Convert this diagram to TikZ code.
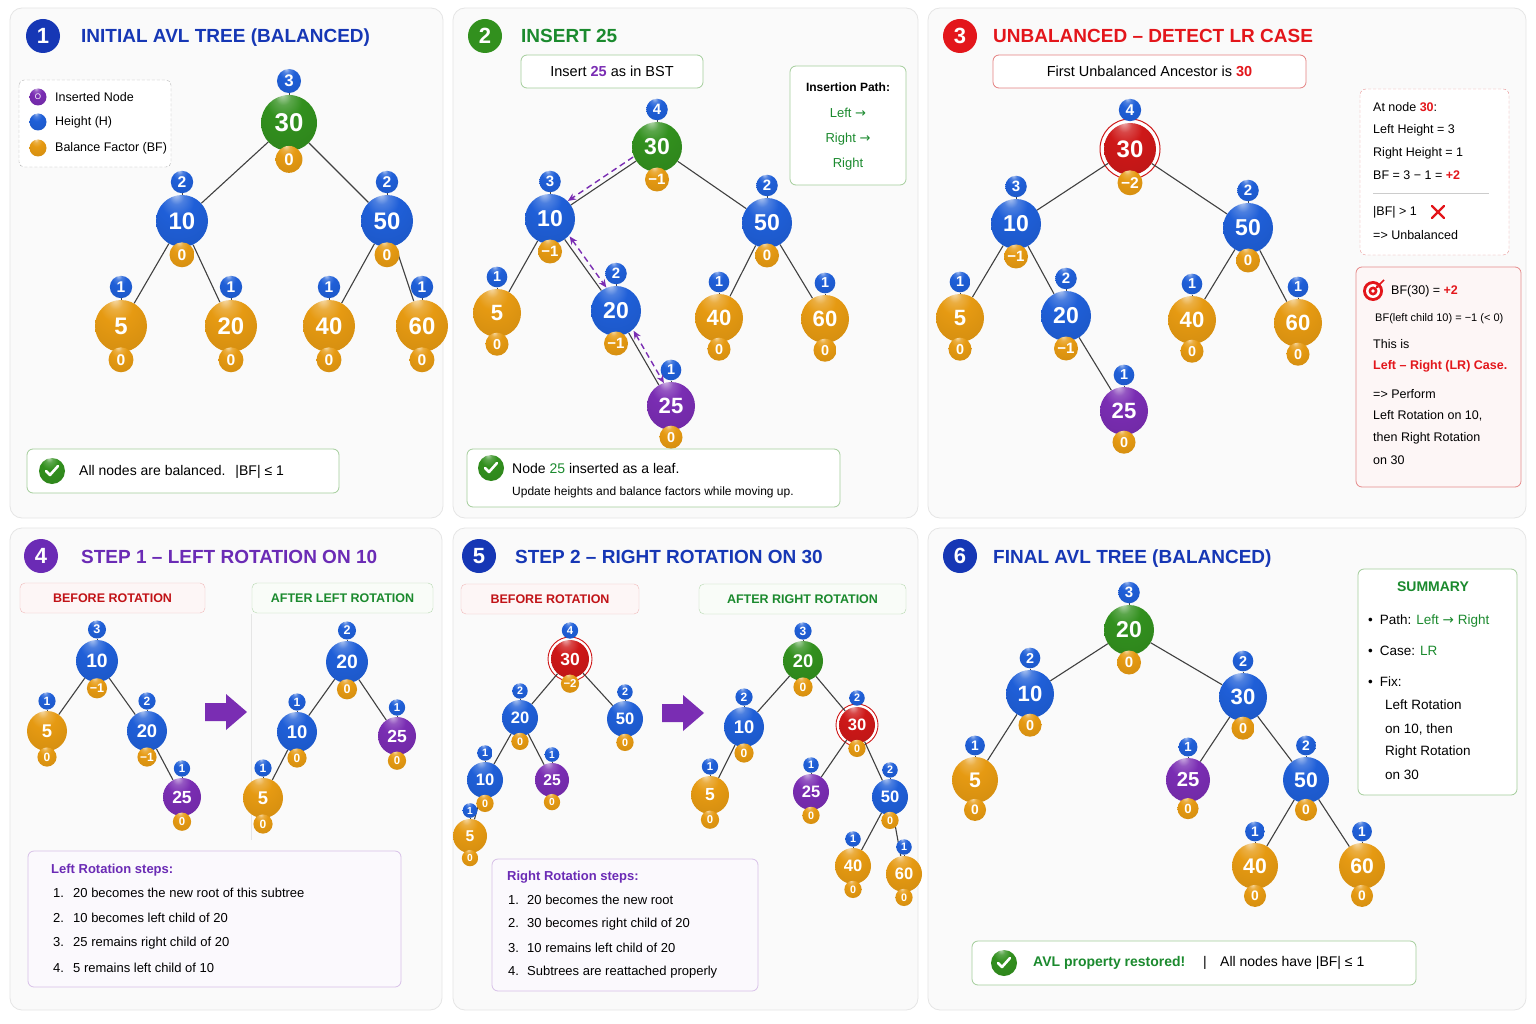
\documentclass[tikz,border=0pt]{standalone}
\usepackage{fontspec}
\setmainfont{Liberation Sans}
\newfontfamily\symfont{DejaVu Sans}
\usetikzlibrary{arrows.meta}

\pgfdeclarelayer{back}
\pgfdeclarelayer{mid}
\pgfsetlayers{back,mid,main}

\definecolor{nblue}{HTML}{1F5FD8}
\definecolor{ngreen}{HTML}{32901E}
\definecolor{norange}{HTML}{E69A12}
\definecolor{npurple}{HTML}{7A2DB3}
\definecolor{nred}{HTML}{CE1818}
\definecolor{tblue}{HTML}{1637B5}
\definecolor{tgreen}{HTML}{1B8A2E}
\definecolor{tred}{HTML}{E3161B}
\definecolor{tpurple}{HTML}{6B2BB5}

% glossy ball, highlight kept near the top
\makeatletter
\pgfdeclareradialshading[tikz@ball]{gloss}{\pgfqpoint{-6bp}{26bp}}{%
  color(0bp)=(tikz@ball!35!white); color(7bp)=(tikz@ball!80!white);
  color(16bp)=(tikz@ball); color(45bp)=(tikz@ball!90!black); color(62bp)=(tikz@ball!55!black)}
\makeatother

\newcommand{\rarr}{{\symfont →}}

\tikzset{
  panel/.style={rounded corners=12pt, fill=black!2, draw=black!10, line width=0.8pt},
  numbadge/.style={circle, inner sep=0pt, minimum size=34, text=white, font=\fontsize{22}{22}\selectfont\bfseries},
  heading/.style={anchor=base west, inner sep=0pt, font=\fontsize{19}{19}\selectfont\bfseries},
  txt/.style={anchor=west, inner sep=0pt, font=\fontsize{13}{15}\selectfont},
  smalltxt/.style={anchor=west, inner sep=0pt, font=\fontsize{11.5}{13}\selectfont},
  ctxt/.style={inner sep=0pt, font=\fontsize{13}{15}\selectfont},
  avlball/.style={circle, inner sep=0pt, text=white},
  link/.style={draw=black!75, line width=1.1pt},
  ring/.style={draw=nred, line width=1pt, fill=white},
  walk/.style={draw=npurple, line width=1.4pt, dash pattern=on 6pt off 4pt, >={Stealth[length=8pt,width=7pt]}},
  greenbox/.style={draw=ngreen!45, fill=white, rounded corners=6pt, line width=0.8pt},
  redbox/.style={draw=nred!55, fill=white, rounded corners=6pt, line width=0.8pt},
  tabred/.style={draw=nred!30, fill=nred!4, rounded corners=5pt, text=tred!85!black, font=\fontsize{12.5}{14}\selectfont\bfseries},
  tabgreen/.style={draw=ngreen!35, fill=ngreen!3, rounded corners=5pt, text=tgreen, font=\fontsize{12.5}{14}\selectfont\bfseries},
  stepsbox/.style={draw=npurple!30, fill=npurple!3, rounded corners=6pt, line width=0.8pt},
}

% ball with height tag above and balance tag below
\newcommand{\avlnode}[8]{%
  \pgfmathsetmacro{\keysize}{0.92*#4}%
  \pgfmathsetmacro{\tagsize}{0.6*#4}%
  \node[avlball, ball color=#5, shading=gloss, minimum size=2*#4, font=\fontsize{\keysize}{\keysize}\selectfont\bfseries] (#1) at (#2,#3) {#6};
  \node[avlball, ball color=nblue, shading=gloss, minimum size=0.86*#4, font=\fontsize{\tagsize}{\tagsize}\selectfont\bfseries] (#1h) at (#2,{#3-1.5*#4}) {#7};
  \node[avlball, ball color=norange, shading=gloss, minimum size=0.96*#4, font=\fontsize{\tagsize}{\tagsize}\selectfont\bfseries] (#1b) at (#2,{#3+1.3*#4}) {#8};
  \begin{pgfonlayer}{mid}\draw[link, line width=0.7pt] (#1h) -- (#1);\end{pgfonlayer}%
}
% green tick
\newcommand{\okmark}[3]{%
  \node[avlball, ball color=ngreen, shading=gloss, minimum size=26] (#1) at (#2,#3) {};
  \draw[white, line width=2.6pt, line cap=round, line join=round] ([xshift=-6pt]#1.center) -- ++(4,4) -- ++(8,-9);
}

\begin{document}
\begin{tikzpicture}[x=1pt,y=-1pt]

\begin{pgfonlayer}{back}
\fill[white] (0,0) rectangle (1536,1024);
\foreach \xa/\ya/\xb/\yb in {10/8/443/518, 453/8/918/518, 928/8/1526/518, 10/528/442/1010, 453/528/918/1010, 928/528/1526/1010}
  \draw[panel] (\xa,\ya) rectangle (\xb,\yb);
\end{pgfonlayer}

% ---- 1: initial tree
\node[numbadge, fill=tblue] (p1num) at (43,36) {1};
\node[heading, text=tblue] (p1title) at (81,43) {INITIAL AVL TREE (BALANCED)};
\draw[draw=black!30, densely dashed, fill=white, rounded corners=5pt] (19,80) rectangle (171,167);
\node[avlball, ball color=npurple, shading=gloss, minimum size=17, font=\fontsize{8}{8}\selectfont] (lg1) at (38,97) {O};
\node[txt, font=\fontsize{12.5}{14}\selectfont] (lt1) at (55,97) {Inserted Node};
\node[avlball, ball color=nblue, shading=gloss, minimum size=17] (lg2) at (38,122) {};
\node[txt, font=\fontsize{12.5}{14}\selectfont] (lt2) at (55,122) {Height (H)};
\node[avlball, ball color=norange, shading=gloss, minimum size=17] (lg3) at (38,148) {};
\node[txt, font=\fontsize{12.5}{14}\selectfont] (lt3) at (55,148) {Balance Factor (BF)};

\avlnode{a30}{289}{123}{28}{ngreen}{30}{3}{0}
\avlnode{a10}{182}{221}{26}{nblue}{10}{2}{0}
\avlnode{a50}{387}{221}{26}{nblue}{50}{2}{0}
\avlnode{a5}{121}{326}{26}{norange}{5}{1}{0}
\avlnode{a20}{231}{326}{26}{norange}{20}{1}{0}
\avlnode{a40}{329}{326}{26}{norange}{40}{1}{0}
\avlnode{a60}{422}{326}{26}{norange}{60}{1}{0}

\draw[greenbox] (27,449) rectangle (339,493);
\okmark{ok1}{52}{471}
\node[txt, font=\fontsize{14}{16}\selectfont] (p1ok) at (79,472) {All nodes are balanced.\hspace{10pt}|BF| ≤ 1};

% ---- 2: insert 25
\node[numbadge, fill=ngreen] (p2num) at (485,36) {2};
\node[heading, text=tgreen] (p2title) at (521,43) {INSERT 25};
\node[greenbox, minimum width=182, minimum height=33, font=\fontsize{14.5}{16}\selectfont] (p2box) at (612,71.5) {Insert \textcolor{npurple}{\bfseries 25} as in BST};
\draw[greenbox] (790,66) rectangle (906,185);
\node[ctxt, font=\fontsize{12}{14}\selectfont\bfseries] (path0) at (848,87) {Insertion Path:};
\node[ctxt, text=tgreen] (path1) at (848,113) {Left \rarr};
\node[ctxt, text=tgreen] (path2) at (848,139) {Right \rarr};
\node[ctxt, text=tgreen] (path3) at (848,164) {Right};

\avlnode{b30}{657}{147}{25}{ngreen}{30}{4}{−1}
\avlnode{b10}{550}{219}{25}{nblue}{10}{3}{−1}
\avlnode{b50}{767}{223}{25}{nblue}{50}{2}{0}
\avlnode{b5}{497}{313}{24}{norange}{5}{1}{0}
\avlnode{b20}{616}{311}{25}{nblue}{20}{2}{−1}
\avlnode{b40}{719}{318}{24}{norange}{40}{1}{0}
\avlnode{b60}{825}{319}{24}{norange}{60}{1}{0}
\avlnode{b25}{671}{406}{24}{npurple}{25}{1}{0}

\draw[walk, ->, transform canvas={shift={(-3,-4)}}] (b30) -- (b10);
\draw[walk, <->, transform canvas={shift={(5,-3)}}] (b10) -- (b20);
\draw[walk, <->, transform canvas={shift={(5,-2)}}] (b20) -- (b25);

\draw[greenbox] (467,449) rectangle (840,507);
\okmark{ok2}{491}{468}
\node[txt, font=\fontsize{14}{16}\selectfont] (p2ok) at (512,468) {Node \textcolor{tgreen}{25} inserted as a leaf.};
\node[smalltxt, font=\fontsize{12}{14}\selectfont] (p2up) at (512,492) {Update heights and balance factors while moving up.};

% ---- 3: unbalanced
\node[numbadge, fill=tred] (p3num) at (960,36) {3};
\node[heading, text=tred] (p3title) at (993,43) {UNBALANCED – DETECT LR CASE};
\node[redbox, minimum width=313, minimum height=33, font=\fontsize{14.5}{16}\selectfont] (p3box) at (1149.5,71.5) {First Unbalanced Ancestor is \textcolor{tred}{\bfseries 30}};

\avlnode{c30}{1130}{149}{26}{nred}{30}{4}{−2}
\begin{pgfonlayer}{mid}\draw[ring] (c30.center) circle[radius=30];\end{pgfonlayer}
\avlnode{c10}{1016}{224}{25}{nblue}{10}{3}{−1}
\avlnode{c50}{1248}{228}{25}{nblue}{50}{2}{0}
\avlnode{c5}{960}{318}{24}{norange}{5}{1}{0}
\avlnode{c20}{1066}{316}{25}{nblue}{20}{2}{−1}
\avlnode{c40}{1192}{320}{24}{norange}{40}{1}{0}
\avlnode{c60}{1298}{323}{24}{norange}{60}{1}{0}
\avlnode{c25}{1124}{411}{24}{npurple}{25}{1}{0}

\draw[draw=nred!45, densely dashed, fill=white, rounded corners=6pt] (1360,89) rectangle (1509,255);
\node[txt, font=\fontsize{12.5}{14}\selectfont] (i1) at (1373,107) {At node \textcolor{tred}{\bfseries 30}:};
\node[txt, font=\fontsize{12.5}{14}\selectfont] (i2) at (1373,130) {Left Height = 3};
\node[txt, font=\fontsize{12.5}{14}\selectfont] (i3) at (1373,153) {Right Height = 1};
\node[txt, font=\fontsize{12.5}{14}\selectfont] (i4) at (1373,175) {BF = 3 − 1 = \textcolor{tred}{\bfseries +2}};
\draw[black!20] (1373,193) -- (1489,193);
\node[txt, font=\fontsize{12.5}{14}\selectfont] (i5) at (1373,212) {|BF| > 1};
\draw[tred, line width=2.4pt, line cap=round] (1432,206) -- (1444,218) (1432,218) -- (1444,206);
\node[txt, font=\fontsize{12.5}{14}\selectfont] (i6) at (1373,235) {=> Unbalanced};

\draw[draw=nred!50, fill=nred!4, rounded corners=6pt, line width=0.8pt] (1356,267) rectangle (1521,487);
\fill[tred] (1373,291) circle[radius=10];
\fill[white] (1373,291) circle[radius=7];
\fill[tred] (1373,291) circle[radius=4.5];
\fill[white] (1373,291) circle[radius=1.8];
\draw[tred, line width=1.5pt, -{Stealth[length=4pt]}] (1384,280) -- (1375,289);
\node[txt, font=\fontsize{12.5}{14}\selectfont] (j1) at (1391,291) {BF(30) = \textcolor{tred}{\bfseries +2}};
\node[smalltxt, font=\fontsize{11}{13}\selectfont] (j2) at (1375,319) {BF(left child 10) = −1 (< 0)};
\node[txt, font=\fontsize{12.5}{14}\selectfont] (j3) at (1373,344) {This is};
\node[txt, font=\fontsize{12.5}{14}\selectfont\bfseries, text=tred] (j4) at (1373,366) {Left – Right (LR) Case.};
\node[txt, font=\fontsize{12.5}{14}\selectfont] (j5) at (1373,394) {=> Perform};
\node[txt, font=\fontsize{12.5}{14}\selectfont] (j6) at (1373,416) {Left Rotation on 10,};
\node[txt, font=\fontsize{12.5}{14}\selectfont] (j7) at (1373,438) {then Right Rotation};
\node[txt, font=\fontsize{12.5}{14}\selectfont] (j8) at (1373,460) {on 30};

% ---- 4: left rotation on 10
\node[numbadge, fill=tpurple] (p4num) at (41,556) {4};
\node[heading, text=tpurple] (p4title) at (81,563) {STEP 1 – LEFT ROTATION ON 10};
\node[tabred, minimum width=185, minimum height=30] (p4before) at (112.5,598) {BEFORE ROTATION};
\node[tabgreen, minimum width=181, minimum height=30] (p4after) at (342.5,598) {AFTER LEFT ROTATION};
\draw[black!10] (251,614) -- (251,840);

\avlnode{d10}{97}{661}{21}{nblue}{10}{3}{−1}
\avlnode{d5}{47}{731}{20}{norange}{5}{1}{0}
\avlnode{d20}{147}{731}{20}{nblue}{20}{2}{−1}
\avlnode{d25}{182}{797}{19}{npurple}{25}{1}{0}
\fill[npurple] (205,703) -- (226,703) -- (226,694) -- (247,712) -- (226,730) -- (226,721) -- (205,721) -- cycle;
\avlnode{e20}{347}{662}{21}{nblue}{20}{2}{0}
\avlnode{e10}{297}{732}{20}{nblue}{10}{1}{0}
\avlnode{e25}{397}{736}{19}{npurple}{25}{1}{0}
\avlnode{e5}{263}{798}{20}{norange}{5}{1}{0}

\draw[stepsbox] (28,851) rectangle (401,987);
\node[txt, font=\fontsize{13}{15}\selectfont\bfseries, text=tpurple] (p4steps) at (51,870) {Left Rotation steps:};
\foreach \k/\s in {1/20 becomes the new root of this subtree, 2/10 becomes left child of 20, 3/25 remains right child of 20, 4/5 remains left child of 10}
  \node[txt] (p4s\k) at (53,{868+25*\k}) {\makebox[20pt][l]{\k.}\s};

% ---- 5: right rotation on 30
\node[numbadge, fill=tblue] (p5num) at (479,556) {5};
\node[heading, text=tblue] (p5title) at (515,563) {STEP 2 – RIGHT ROTATION ON 30};
\node[tabred, minimum width=178, minimum height=30] (p5before) at (550,599) {BEFORE ROTATION};
\node[tabgreen, minimum width=207, minimum height=30] (p5after) at (802.5,599) {AFTER RIGHT ROTATION};

\avlnode{f30}{570}{659}{19}{nred}{30}{4}{−2}
\begin{pgfonlayer}{mid}\draw[ring, line width=0.9pt] (f30.center) circle[radius=22];\end{pgfonlayer}
\avlnode{f20}{520}{718}{18}{nblue}{20}{2}{0}
\avlnode{f50}{625}{719}{18}{nblue}{50}{2}{0}
\avlnode{f10}{485}{780}{18}{nblue}{10}{1}{0}
\avlnode{f25}{552}{780}{17}{npurple}{25}{1}{0}
\avlnode{f5}{470}{836}{17}{norange}{5}{1}{0}
\fill[npurple] (662,704) -- (683,704) -- (683,695) -- (704,713) -- (683,731) -- (683,722) -- (662,722) -- cycle;
\avlnode{g20}{803}{661}{20}{ngreen}{20}{3}{0}
\avlnode{g10}{744}{727}{20}{nblue}{10}{2}{0}
\avlnode{g30}{857}{725}{18}{nred}{30}{2}{0}
\begin{pgfonlayer}{mid}\draw[ring, line width=0.9pt] (g30.center) circle[radius=21];\end{pgfonlayer}
\avlnode{g5}{710}{795}{19}{norange}{5}{1}{0}
\avlnode{g25}{811}{792}{18}{npurple}{25}{1}{0}
\avlnode{g50}{890}{797}{18}{nblue}{50}{2}{0}
\avlnode{g40}{853}{866}{18}{norange}{40}{1}{0}
\avlnode{g60}{904}{874}{18}{norange}{60}{1}{0}

\draw[stepsbox] (492,859) rectangle (758,991);
\node[txt, font=\fontsize{13}{15}\selectfont\bfseries, text=tpurple] (p5steps) at (507,877) {Right Rotation steps:};
\foreach \k/\s in {1/20 becomes the new root, 2/30 becomes right child of 20, 3/10 remains left child of 20, 4/Subtrees are reattached properly}
  \node[txt] (p5s\k) at (508,{876+24*\k}) {\makebox[19pt][l]{\k.}\s};

% ---- 6: final tree
\node[numbadge, fill=tblue] (p6num) at (960,556) {6};
\node[heading, text=tblue] (p6title) at (993,563) {FINAL AVL TREE (BALANCED)};

\avlnode{h20}{1129}{630}{25}{ngreen}{20}{3}{0}
\avlnode{h10}{1030}{694}{24}{nblue}{10}{2}{0}
\avlnode{h30}{1243}{697}{24}{nblue}{30}{2}{0}
\avlnode{h5}{975}{780}{23}{norange}{5}{1}{0}
\avlnode{h25}{1188}{780}{22}{npurple}{25}{1}{0}
\avlnode{h50}{1306}{780}{23}{nblue}{50}{2}{0}
\avlnode{h40}{1255}{866}{23}{norange}{40}{1}{0}
\avlnode{h60}{1362}{866}{23}{norange}{60}{1}{0}

\draw[greenbox] (1358,569) rectangle (1517,795);
\node[ctxt, font=\fontsize{14}{16}\selectfont\bfseries, text=tgreen] (sum0) at (1433,587) {SUMMARY};
\node[txt, font=\fontsize{13.5}{16}\selectfont] (sum1) at (1368,621) {\textbullet\hspace{7pt}Path: \textcolor{tgreen}{Left \rarr\ Right}};
\node[txt, font=\fontsize{13.5}{16}\selectfont] (sum2) at (1368,651) {\textbullet\hspace{7pt}Case: \textcolor{tgreen}{LR}};
\node[txt, font=\fontsize{13.5}{16}\selectfont] (sum3) at (1368,682) {\textbullet\hspace{7pt}Fix:};
\node[txt, font=\fontsize{13.5}{16}\selectfont] (sum4) at (1385,705) {Left Rotation};
\node[txt, font=\fontsize{13.5}{16}\selectfont] (sum5) at (1385,729) {on 10, then};
\node[txt, font=\fontsize{13.5}{16}\selectfont] (sum6) at (1385,752) {Right Rotation};
\node[txt, font=\fontsize{13.5}{16}\selectfont] (sum7) at (1385,775) {on 30};

\draw[greenbox] (972,941) rectangle (1416,985);
\okmark{ok6}{1004}{963}
\node[txt, font=\fontsize{14}{16}\selectfont\bfseries, text=tgreen] (p6ok) at (1033,963) {AVL property restored!};
\node[txt, font=\fontsize{14}{16}\selectfont] (p6bar) at (1203,963) {|};
\node[txt, font=\fontsize{14}{16}\selectfont] (p6all) at (1220,963) {All nodes have |BF| ≤ 1};

% ---- tree links
\begin{pgfonlayer}{mid}
\foreach \u/\v in {a30/a10, a30/a50, a10/a5, a10/a20, a50/a40, a50/a60,
  b30/b10, b30/b50, b10/b5, b10/b20, b50/b40, b50/b60, b20/b25,
  c30/c10, c30/c50, c10/c5, c10/c20, c50/c40, c50/c60, c20/c25,
  d10/d5, d10/d20, d20/d25, e20/e10, e20/e25, e10/e5,
  f30/f20, f30/f50, f20/f10, f20/f25, f10/f5,
  g20/g10, g20/g30, g10/g5, g30/g25, g30/g50, g50/g40, g50/g60,
  h20/h10, h20/h30, h10/h5, h30/h25, h30/h50, h50/h40, h50/h60}
  \draw[link] (\u) -- (\v);
\end{pgfonlayer}

\end{tikzpicture}
\end{document}
